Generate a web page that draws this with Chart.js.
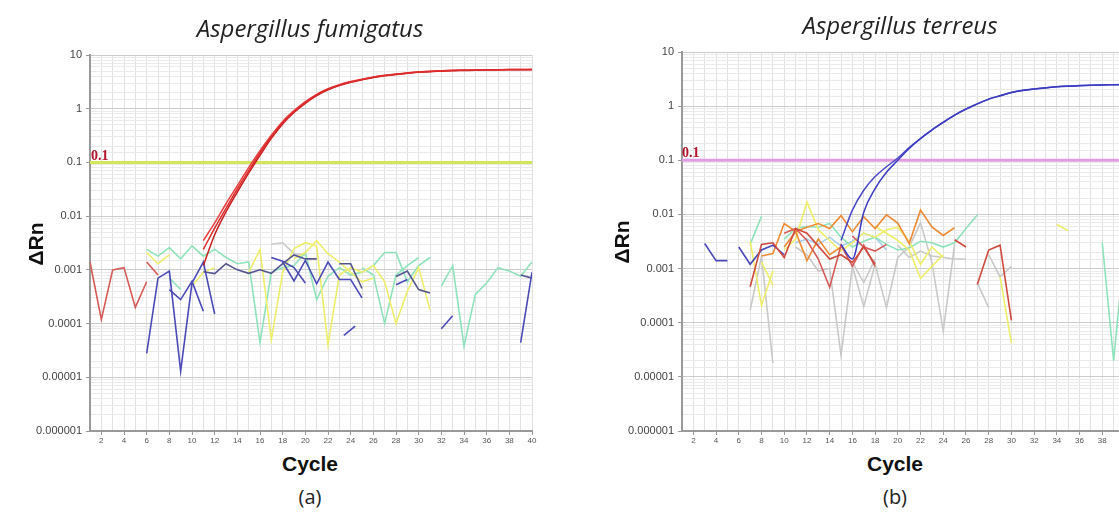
<!DOCTYPE html>
<html><head><meta charset="utf-8">
<script src="https://cdn.jsdelivr.net/npm/chart.js@4.4.0/dist/chart.umd.min.js"></script>
<style>
html,body{margin:0;padding:0;background:#fff;overflow:hidden;width:1119px;height:513px}
#wrap{position:relative;width:1119px;height:513px;overflow:hidden;background:#fff}
canvas{position:absolute}
.t{position:absolute;white-space:nowrap;transform:translate(-50%,-50%);color:#222;line-height:1}
.title{font-family:"Open Sans";font-style:italic;font-size:24px}
.ax{font-family:"Liberation Sans",Arial,sans-serif;font-weight:bold;font-size:21px;color:#111}
.rot{transform:translate(-50%,-50%) rotate(-90deg)}
.cap{font-family:"Open Sans";font-size:20px}
.thr{position:absolute;font-family:"Liberation Serif",serif;font-weight:bold;font-size:14px;color:#b3142b;line-height:1}
</style></head>
<body><div id="wrap">
<canvas id="ca" width="545" height="450" style="left:0;top:0"></canvas>
<canvas id="cb" width="546" height="450" style="left:592px;top:0"></canvas>
<div class="t title" style="left:310px;top:28px">Aspergillus fumigatus</div>
<div class="t title" style="left:900px;top:25px">Aspergillus terreus</div>
<div class="t ax rot" style="left:35px;top:244px">ΔRn</div>
<div class="t ax rot" style="left:621px;top:242px">ΔRn</div>
<div class="t ax" style="left:310px;top:463px">Cycle</div>
<div class="t ax" style="left:895px;top:463px">Cycle</div>
<div class="t cap" style="left:310px;top:497px">(a)</div>
<div class="t cap" style="left:895px;top:497px">(b)</div>
<div class="thr" style="left:91px;top:149px">0.1</div>
<div class="thr" style="left:682px;top:146px">0.1</div>
</div>
<script>
// ---------- shared ----------
const cycles = [1,2,3,4,5,6,7,8,9,10,11,12,13,14,15,16,17,18,19,20,21,22,23,24,25,26,27,28,29,30,31,32,33,34,35,36,37,38,39,40];
const yMin = 0.000001, yMax = 10;
const thresholdA = 0.1, thresholdB = 0.1;

// ---------- panel (a) Aspergillus fumigatus ----------
const aAmpStart = 11;
const aAmp1 = [0.0024,0.006,0.014,0.032,0.07,0.15,0.3,0.55,0.88,1.3,1.8,2.3,2.75,3.15,3.5,3.85,4.15,4.4,4.6,4.8,4.95,5.05,5.15,5.2,5.25,5.3,5.3,5.35,5.35,5.35];
const aAmp2 = [0.0035,0.0075,0.017,0.037,0.08,0.165,0.32,0.58,0.92,1.35,1.85,2.35,2.8,3.2,3.55,3.9,4.2,4.45,4.65,4.85,5.0,5.1,5.18,5.24,5.28,5.32,5.34,5.36,5.38,5.4];
const aAmp3 = [0.0012,0.0045,0.012,0.028,0.063,0.135,0.28,0.52,0.85,1.26,1.75,2.25,2.7,3.1,3.45,3.8,4.1,4.35,4.55,4.75,4.9,5.0,5.1,5.15,5.2,5.25,5.28,5.3,5.32,5.33];

const aRed1 = [[1,0.0014],[2,0.00012],[3,0.001],[4,0.0011],[5,0.0002],[6,0.0006]];
const aRed2 = [[6,0.0014],[7,0.0008]];
const aBlue1 = [[6,0.000028],[7,0.0007],[8,0.00095],[9,0.000013],[10,0.00057],[11,0.0014],[12,0.00015]];
const aBlue2 = [[8,0.00043],[9,0.00028],[10,0.00061],[11,0.00017]];
const aBlue3 = [[11,0.00092],[12,0.00085],[13,0.0013],[14,0.001],[15,0.00086],[16,0.001],[17,0.00086],[18,0.0013],[19,0.0019],[20,0.0016],[21,0.0016]];
const aBlue4 = [[17,0.0017],[18,0.00145],[19,0.0011],[20,0.00057]];
const aBlue5 = [[18,0.0014],[19,0.00062],[20,0.0015],[21,0.00055],[22,0.0014],[23,0.00066],[24,0.00066],[25,0.0003]];
const aBlue6 = [[23,0.0013],[24,0.0013],[25,0.00045]];
const aBlue7 = [[23.4,0.00006],[24.4,0.00009]];
const aBlue8 = [[28,0.00053],[29,0.00066]];
const aBlue9 = [[28,0.00075],[29,0.00095],[30,0.00043],[31,0.00037]];
const aBlue10 = [[32,0.00008],[33,0.00014]];
const aBlue11 = [[39,0.000044],[40,0.0009]];
const aBlue12 = [[39,0.0008],[40,0.0007]];
const aTeal1 = [[6,0.0024],[7,0.0018],[8,0.0026],[9,0.0016],[10,0.0028],[11,0.0018],[12,0.0024],[13,0.0017],[14,0.0013],[15,0.0014],[16,0.000044],[17,0.0009],[18,0.0011],[19,0.0012],[20,0.0021],[21,0.00028],[22,0.00076],[23,0.0011],[24,0.0008],[25,0.0009],[26,0.0012],[27,0.0021],[28,0.0021],[29,0.0006],[30,0.0012],[31,0.0017]];
const aTeal2 = [[25,0.0011],[26,0.0008],[27,0.0001],[28,0.0008],[29,0.0012],[30,0.0017]];
const aTeal3 = [[32,0.0005],[33,0.0012],[34,0.000038],[35,0.00035],[36,0.00057],[37,0.0011],[38,0.00095],[39,0.00076],[40,0.0014]];
const aTeal4 = [[8,0.0007],[9,0.00043]];
const aYel1 = [[6,0.0021],[7,0.0013],[8,0.0019]];
const aYel2 = [[10,0.0005],[11,0.0009],[12,0.0011]];
const aYel3 = [[15,0.0009],[16,0.0024],[17,0.00005],[18,0.0009],[19,0.0025],[20,0.0032],[21,0.0028],[22,0.00004],[23,0.0008],[24,0.0011],[25,0.0009],[26,0.0012],[27,0.0006],[28,0.0001],[29,0.0004],[30,0.0011],[31,0.00018]];
const aYel4 = [[19,0.0016],[20,0.0021],[21,0.0035],[22,0.002],[23,0.0014],[24,0.0009],[25,0.0006],[26,0.0007]];
const aGray1 = [[17,0.003],[18,0.0032],[19,0.002],[20,0.0019]];

// ---------- panel (b) Aspergillus terreus ----------
const bAmp1Start = 15;
const bAmp1 = [0.0028,0.0015,0.011,0.03,0.06,0.1,0.165,0.25,0.36,0.5,0.68,0.88,1.1,1.35,1.55,1.78,1.95,2.07,2.17,2.27,2.34,2.39,2.43,2.46,2.48,2.5];
const bAmp2Start = 15;
const bAmp2 = [0.0033,0.012,0.028,0.05,0.076,0.11,0.172,0.255,0.365,0.505,0.685,0.885,1.1,1.35,1.56,1.79,1.96,2.08,2.18,2.28,2.35,2.4,2.44,2.47,2.49,2.51];

const bBlue1 = [[3,0.0029],[4,0.0014],[5,0.0014]];
const bBlue2 = [[6,0.0025],[7,0.0012],[8,0.0022],[9,0.0027],[10,0.0018]];
const bOrange1 = [[8,0.0017],[9,0.0019],[10,0.0068],[11,0.0048],[12,0.0058],[13,0.0068],[14,0.0055],[15,0.0095],[16,0.0048],[17,0.0091],[18,0.0055],[19,0.0098],[20,0.0069],[21,0.0029],[22,0.012],[23,0.0059],[24,0.0041],[25,0.0057]];
const bOrange2 = [[10,0.0025],[11,0.0048],[12,0.0014],[13,0.0035],[14,0.0018],[15,0.0025]];
const bRed1 = [[7,0.00046],[8,0.0028],[9,0.003],[10,0.0016],[11,0.0055],[12,0.0045],[13,0.0026],[14,0.0015],[15,0.0018],[16,0.0013],[17,0.0025],[18,0.0012]];
const bRed2 = [[10,0.0045],[11,0.0055],[12,0.0033],[13,0.0015],[14,0.00045],[15,0.0027],[16,0.0011],[17,0.0027],[18,0.0011]];
const bRed3 = [[25,0.0034],[26,0.0025]];
const bRed4 = [[27,0.00051],[28,0.0022],[29,0.0027],[30,0.00011]];
const bRed5 = [[16,0.004],[17,0.0025],[18,0.0021],[19,0.0028]];
const bYel1 = [[7,0.0032],[8,0.00021],[9,0.0009]];
const bYel2 = [[8,0.0013],[9,0.0005]];
const bYel3 = [[10,0.0022],[11,0.0035],[12,0.017],[13,0.0052],[14,0.0033],[15,0.0021],[16,0.003],[17,0.0045],[18,0.0038],[19,0.0052],[20,0.0058],[21,0.0032],[22,0.0012],[23,0.0025],[24,0.0016]];
const bYel4 = [[18,0.006],[19,0.0045],[20,0.0033],[21,0.0022],[22,0.00066],[23,0.0011],[24,0.0018]];
const bYel5 = [[29,0.0007],[30,0.000042]];
const bYel6 = [[34,0.0065],[35,0.005]];
const bTeal1 = [[7,0.0028],[8,0.0092]];
const bTeal2 = [[10,0.0035],[11,0.0055],[12,0.006],[13,0.0058],[14,0.0068],[15,0.0038],[16,0.0025],[17,0.0032],[18,0.0038],[19,0.0028],[20,0.0022],[21,0.0024],[22,0.0032],[23,0.003],[24,0.0025],[25,0.003],[26,0.0055],[27,0.0098]];
const bTeal3 = [[38,0.003],[39,0.00002],[40,0.003]];
const bLBlue = [[11,0.003],[12,0.0035],[13,0.0028],[14,0.0038],[15,0.0026],[16,0.0032],[17,0.0045],[18,0.0038],[19,0.0022]];
const bGray1 = [[7,0.00017],[8,0.0017],[9,0.000018]];
const bGray2 = [[11,0.0025],[12,0.0018],[13,0.0009],[14,0.001],[15,0.000025],[16,0.0011],[17,0.0002],[18,0.0012],[19,0.00019],[20,0.0016],[21,0.0025],[22,0.007],[23,0.0013],[24,0.00007],[25,0.0028]];
const bGray3 = [[16,0.0013],[17,0.00055],[18,0.0015]];
const bGray4 = [[20,0.0027],[21,0.0016],[22,0.0021],[23,0.0017],[24,0.0016],[25,0.0015],[26,0.0015]];
const bGray5 = [[27,0.00054],[28,0.00019]];
const bGray6 = [[28,0.0018],[29,0.0007],[30,0.0011]];

// ---------- colours ----------
const C = {
  ampRed:'#dd2a2a', ampBlue:'#3a3ac4', red:'#d65a55', blue:'#4a4ab8', slate:'#55558f',
  teal:'#8fe3bb', yel:'#eeee6c', gray:'#c9c9c9', orange:'#ee8a34', dred:'#cf4a3c',
  lblue:'#a6cdef', thrA:'#d3e65a', thrB:'#e29de2'
};

function pts(pairs){ return pairs.map(p => ({x:p[0], y:p[1]})); }
function ampPts(start, vals){ const i0 = cycles.indexOf(start); return vals.map((v,i) => ({x:cycles[i0+i], y:v})); }
function noise(pairs, color, order){ return {data:pts(pairs), borderColor:color, borderWidth:1.6, pointRadius:0, tension:0, spanGaps:false, order:order||3}; }
function amp(points, color){ return {data:points, borderColor:color, borderWidth:1.5, pointRadius:0, cubicInterpolationMode:'monotone', order:0}; }
function thr(value, color){ return {data:cycles.map(c => ({x:c, y:value})), borderColor:color, borderWidth:3, pointRadius:0, order:1}; }

function yLabel(v){
  const l = Math.log10(v), r = Math.round(l);
  if (Math.abs(l - r) > 1e-6) return '';
  return r >= 0 ? String(Math.pow(10, r)) : '0.' + '0'.repeat(-r - 1) + '1';
}
function isMajor(v){ const l = Math.log10(v); return Math.abs(l - Math.round(l)) < 1e-6; }

function opts(padTop){
  return {
    responsive:false, animation:false, events:[],
    layout:{padding:{top:padTop, right:13, left:0, bottom:0}},
    plugins:{legend:{display:false}, tooltip:{enabled:false}},
    scales:{
      x:{type:'linear', min:1, max:40,
         afterFit:s => { s.height = 19; },
         border:{color:'#9a9a9a', width:2},
         grid:{color:'#e1e1e1', lineWidth:1, tickLength:4, tickColor:ctx => (ctx.tick && ctx.tick.value % 2 === 0) ? '#999' : 'rgba(0,0,0,0)'},
         ticks:{stepSize:1, autoSkip:false, maxRotation:0, padding:1, color:'#555',
                font:{family:'Liberation Sans', size:8},
                callback:v => (v % 2 === 0 ? String(v) : '')}},
      y:{type:'logarithmic', min:yMin, max:yMax,
         afterFit:s => { s.width = 90; },
         border:{color:'#9a9a9a', width:2},
         grid:{color:ctx => (ctx.tick && isMajor(ctx.tick.value)) ? '#cccccc' : '#eaeaea', lineWidth:1, tickLength:4,
               tickColor:ctx => (ctx.tick && isMajor(ctx.tick.value)) ? '#999' : 'rgba(0,0,0,0)'},
         ticks:{autoSkip:false, padding:4, color:'#444',
                font:{family:'Liberation Sans', size:11},
                callback:yLabel}}
    }
  };
}

new Chart(document.getElementById('ca'), {
  type:'line',
  data:{datasets:[
    amp(ampPts(aAmpStart, aAmp1), C.ampRed),
    amp(ampPts(aAmpStart, aAmp2), '#e84040'),
    amp(ampPts(aAmpStart, aAmp3), '#c81e1e'),
    thr(thresholdA, C.thrA),
    noise(aGray1, C.gray, 6),
    noise(aTeal1, C.teal, 5), noise(aTeal2, C.teal, 5), noise(aTeal3, C.teal, 5), noise(aTeal4, C.teal, 5),
    noise(aYel1, C.yel, 4), noise(aYel2, C.yel, 4), noise(aYel3, C.yel, 4), noise(aYel4, C.yel, 4),
    noise(aRed1, C.red, 3), noise(aRed2, C.red, 3),
    noise(aBlue1, C.blue, 2), noise(aBlue2, C.blue, 2), noise(aBlue3, C.slate, 2), noise(aBlue4, C.blue, 2),
    noise(aBlue5, C.blue, 2), noise(aBlue6, C.slate, 2), noise(aBlue7, C.blue, 2), noise(aBlue8, C.blue, 2),
    noise(aBlue9, C.slate, 2), noise(aBlue10, C.blue, 2), noise(aBlue11, C.blue, 2), noise(aBlue12, C.slate, 2)
  ]},
  options:opts(55)
});

new Chart(document.getElementById('cb'), {
  type:'line',
  data:{datasets:[
    amp(ampPts(bAmp1Start, bAmp1), C.ampBlue),
    amp(ampPts(bAmp2Start, bAmp2), '#4848c8'),
    thr(thresholdB, C.thrB),
    noise(bGray1, C.gray, 7), noise(bGray2, C.gray, 7), noise(bGray3, C.gray, 7), noise(bGray4, C.gray, 7), noise(bGray5, C.gray, 7), noise(bGray6, C.gray, 7),
    noise(bLBlue, C.lblue, 6),
    noise(bTeal1, C.teal, 5), noise(bTeal2, C.teal, 5), noise(bTeal3, C.teal, 5),
    noise(bYel1, C.yel, 4), noise(bYel2, C.yel, 4), noise(bYel3, C.yel, 4), noise(bYel4, C.yel, 4), noise(bYel5, C.yel, 4), noise(bYel6, C.yel, 4),
    noise(bOrange1, C.orange, 3), noise(bOrange2, C.orange, 3),
    noise(bRed1, C.dred, 2), noise(bRed2, C.red, 2), noise(bRed3, C.dred, 2), noise(bRed4, C.dred, 2), noise(bRed5, C.red, 2),
    noise(bBlue1, C.blue, 2), noise(bBlue2, C.blue, 2)
  ]},
  options:opts(52)
});
</script>
</body></html>
